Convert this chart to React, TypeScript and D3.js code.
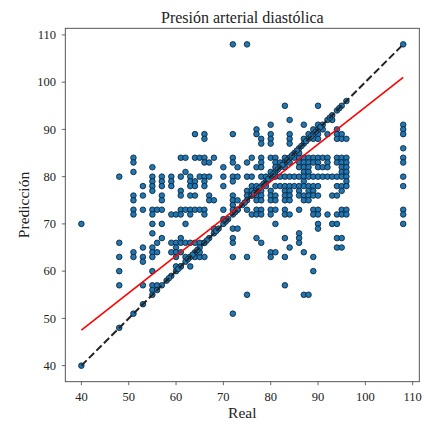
import React from "react";
import * as d3 from "d3";

const titleText = "Presión arterial diastólica";
const xLabel = "Real";
const yLabel = "Predicción";
const xTicks = [40, 50, 60, 70, 80, 90, 100, 110];
const yTicks = [40, 50, 60, 70, 80, 90, 100, 110];
const domain = [36.6, 111.4];

// Points lying on the identity line (prediction == real)
const diagonalReal = [40, 48, 51, 53, 55, 56, 57, 58, 59, 60, 61, 62, 63, 64, 65, 66, 67, 68, 69, 70, 71, 72, 73, 74, 75, 76, 77, 78, 79, 80, 81, 82, 83, 84, 85, 86, 87, 88, 89, 90, 91, 92, 93, 94, 95, 96, 108,
  58.5, 60.5, 62.5, 63.5, 64.5, 66.5, 68.5, 70.5, 72.5, 74.5, 76.5, 77.5, 78.5, 79.5, 80.5, 81.5, 82.5, 83.5, 84.5, 85.5, 86.5, 87.5, 88.5, 89.5, 90.5, 92.5, 94.5];

// Off-diagonal points grouped by real value
const columnReal = [40, 48, 51, 53, 55, 56, 57, 59, 60, 61, 62, 63, 64, 65, 66, 67, 68, 70, 72, 73, 75, 76, 77, 78, 79, 80, 81, 82, 83, 84, 85, 86, 87, 88, 89, 90, 91, 92, 93, 94, 95, 96, 108];
const columnPred = [
  [70],
  [80, 66, 63, 60, 57],
  [84, 83, 81, 76, 75, 73, 72, 64, 63],
  [78, 76, 73, 65, 63, 62, 57],
  [82, 80, 79, 78, 77, 73, 72, 70, 68, 65, 64, 63, 60, 57, 56],
  [73, 66, 64, 57],
  [80, 79, 78, 76, 75, 73, 70, 67],
  [80, 79, 78, 72, 66, 64],
  [72, 66, 65, 64, 63, 61],
  [84, 80, 77, 76, 73, 67, 66, 64, 61, 72],
  [84, 81, 73, 66, 63, 70],
  [80, 79, 78, 76, 73, 72, 66, 63, 61],
  [89, 84, 79, 78, 76, 73, 66, 63],
  [84, 80, 73, 66, 63, 64],
  [89, 88, 84, 83, 80, 79, 78, 73, 72, 66, 63],
  [83, 80, 76, 75],
  [84, 75, 69],
  [82, 80, 78, 73, 71],
  [108, 89, 84, 83, 80, 79, 76, 75, 74, 73, 69, 67, 66, 63, 51],
  [82, 80, 75, 73, 69],
  [108, 83, 80, 77, 76, 73, 63, 55],
  [84, 80, 78, 76, 72, 77],
  [90, 89, 82, 78, 76, 75, 73, 72, 67],
  [88, 87, 84, 83, 82, 80, 77, 76, 75, 73, 72, 66],
  [80, 78],
  [91, 89, 88, 87, 84, 77, 76, 75, 73, 72, 64, 63, 81],
  [84, 83, 82, 80, 78, 76, 75, 73, 70, 64],
  [83, 80, 78],
  [95, 84, 83, 82, 80, 78, 77, 76, 75, 73, 72, 67, 63, 57],
  [92, 89, 88, 87, 84, 83, 80, 78, 77, 76, 75, 72, 65],
  [84, 80, 78],
  [84, 83, 82, 80, 78, 77, 76, 73, 68, 67, 66, 85],
  [91, 84, 83, 82, 81, 80, 79, 78, 76, 75, 64, 55, 88],
  [84, 83, 82, 81, 80, 78, 77, 76, 75, 55, 89],
  [90, 88, 84, 83, 80, 78, 77, 76, 73, 72, 63, 60],
  [95, 89, 88, 84, 83, 82, 80, 78, 76, 73, 72, 70, 69, 91],
  [84, 82, 80, 90],
  [84, 83, 82, 80, 72, 89],
  [92, 80, 76, 70],
  [90, 89, 88, 84, 83, 80, 78, 76, 72, 70, 67, 65],
  [89, 88, 84, 83, 82, 81, 80, 78, 77, 73, 72, 67, 65],
  [88, 84, 83, 82, 81, 80, 79, 78, 73, 72],
  [91, 90, 89, 86, 84, 83, 80, 78, 73, 72, 70],
];

const fitLine = [
  [40, 47.5],
  [108, 101],
];
const identityLine = [40, 108];

const W = 424;
const H = 424;
const M = { left: 65.3, right: 419.3, top: 28.3, bottom: 381.7 };

export default function App() {
  const x = d3.scaleLinear().domain(domain).range([M.left, M.right]);
  const y = d3.scaleLinear().domain(domain).range([M.bottom, M.top]);

  const points: [number, number][] = [];
  columnReal.forEach((r, i) => columnPred[i].forEach((p) => points.push([r, p])));
  diagonalReal.forEach((r) => points.push([r, r]));

  const line = d3
    .line<number[]>()
    .x((d) => x(d[0]))
    .y((d) => y(d[1]));

  const font = "'Liberation Serif', 'Times New Roman', serif";

  return (
    <svg
      width={W}
      height={H}
      style={{ position: "absolute", left: 0, top: 0, background: "#fff" }}
      fontFamily={font}
    >
      <rect x={0} y={0} width={W} height={H} fill="#fff" />
      <g>
        {points.map((d, i) => (
          <circle
            key={i}
            cx={x(d[0])}
            cy={y(d[1])}
            r={2.8}
            fill="#1f77b4"
            stroke="#0a1a2a"
            strokeWidth={0.8}
          />
        ))}
      </g>
      <path
        d={line(fitLine) || ""}
        stroke="#ff0000"
        strokeWidth={1.6}
        fill="none"
      />
      <path
        d={line(identityLine.map((v) => [v, v])) || ""}
        stroke="#222"
        strokeWidth={2}
        strokeDasharray="7.4 3.2"
        fill="none"
      />
      <rect
        x={M.left}
        y={M.top}
        width={M.right - M.left}
        height={M.bottom - M.top}
        fill="none"
        stroke="#444"
        strokeWidth={0.9}
      />
      {xTicks.map((t) => (
        <g key={"x" + t}>
          <line x1={x(t)} x2={x(t)} y1={M.bottom} y2={M.bottom + 3.5} stroke="#444" strokeWidth={0.8} />
          <text x={x(t)} y={400.5} textAnchor="middle" fontSize={12.5} fill="#222">
            {t}
          </text>
        </g>
      ))}
      {yTicks.map((t) => (
        <g key={"y" + t}>
          <line x1={M.left - 3.5} x2={M.left} y1={y(t)} y2={y(t)} stroke="#444" strokeWidth={0.8} />
          <text x={56} y={y(t) + 4.3} textAnchor="end" fontSize={12.5} fill="#222">
            {t}
          </text>
        </g>
      ))}
      <text x={(M.left + M.right) / 2} y={22.5} textAnchor="middle" fontSize={16} fill="#222">
        {titleText}
      </text>
      <text x={(M.left + M.right) / 2} y={418} textAnchor="middle" fontSize={15.5} fill="#222">
        {xLabel}
      </text>
      <text
        transform={`translate(28.5, ${(M.top + M.bottom) / 2}) rotate(-90)`}
        textAnchor="middle"
        fontSize={15.5}
        fill="#222"
      >
        {yLabel}
      </text>
    </svg>
  );
}
